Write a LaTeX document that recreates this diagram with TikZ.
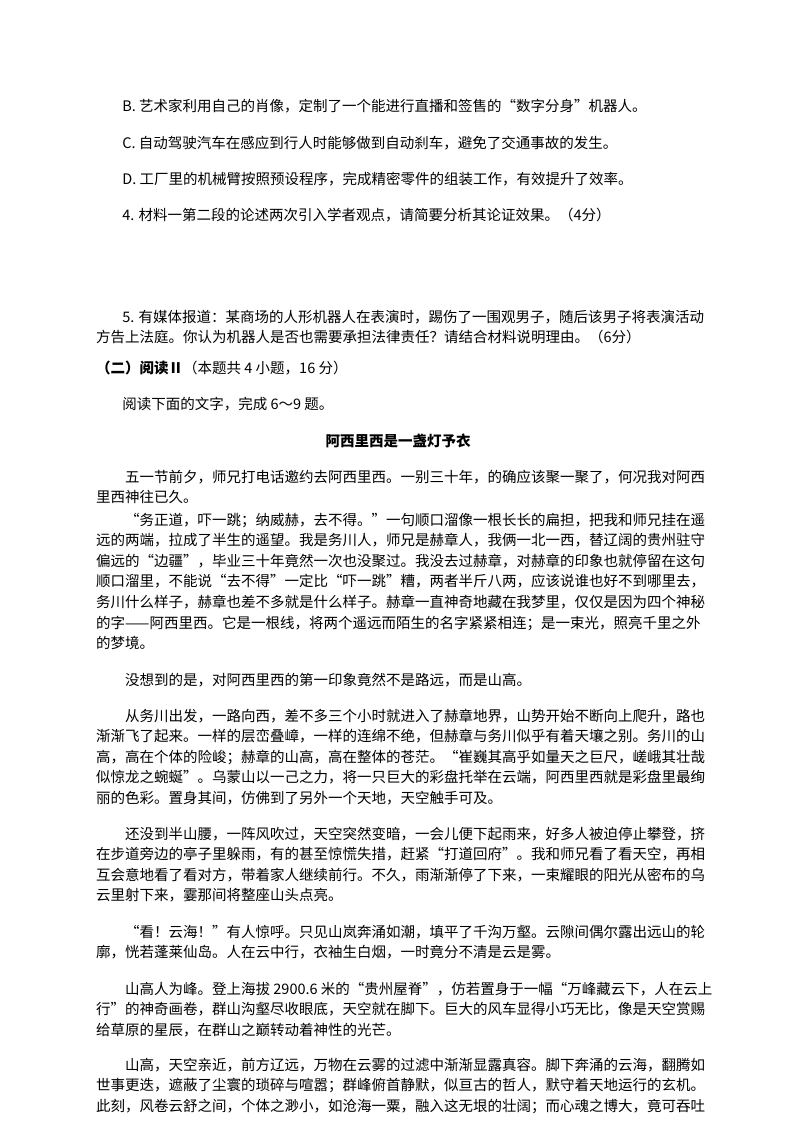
\documentclass[tikz,border=0pt]{standalone}
\usepackage{fontspec}
\setmainfont{Noto Sans CJK SC}
\usetikzlibrary{positioning}

\begin{document}
\begin{tikzpicture}[x=1pt, y=-1pt,
      para/.style={anchor=base west, inner sep=0pt, align=left,
                   font=\fontsize{14.5}{20.6}\selectfont},
      head/.style={anchor=base, inner sep=0pt,
                   font=\fontsize{14.5}{20.6}\selectfont\bfseries}
    ]
      \useasboundingbox[fill=white] (0,0) rectangle (800,1132);

      % questions (multi-line nodes sit on their last baseline)
      \node[para] (qb) at (96,111) {\hspace*{1.8em}B. 艺术家利用自己的肖像，定制了一个能进行直播和签售的“数字分身”机器人。};
      \node[para] (qc) at (96,148) {\hspace*{1.8em}C. 自动驾驶汽车在感应到行人时能够做到自动刹车，避免了交通事故的发生。};
      \node[para] (qd) at (96,184) {\hspace*{1.8em}D. 工厂里的机械臂按照预设程序，完成精密零件的组装工作，有效提升了效率。};
      \node[para] (q4) at (96,220) {\hspace*{1.8em}4. 材料一第二段的论述两次引入学者观点，请简要分析其论证效果。（4分）};
      \node[para] (q5) at (96,342.6) {\hspace*{1.8em}5. 有媒体报道：某商场的人形机器人在表演时，踢伤了一围观男子，随后该男子将表演活动\\
        方告上法庭。你认为机器人是否也需要承担法律责任？请结合材料说明理由。（6分）};

      % section
      \node[para] (sec) at (96,373) {\textbf{（二）阅读Ⅱ}（本题共 4 小题，16 分）};
      \node[para] (task) at (96,409) {\hspace*{1.8em}阅读下面的文字，完成 6～9 题。};
      \node[head] (title) at (398,446) {阿西里西是一盏灯予衣};

      % text
      \node[para] (p1) at (96,502.6) {\hspace*{2em}五一节前夕，师兄打电话邀约去阿西里西。一别三十年，的确应该聚一聚了，何况我对阿西\\
        里西神往已久。};
      \node[para] (p2) at (96,648.6) {\hspace*{2em}“务正道，吓一跳；纳威赫，去不得。”一句顺口溜像一根长长的扁担，把我和师兄挂在遥\\
        远的两端，拉成了半生的遥望。我是务川人，师兄是赫章人，我俩一北一西，替辽阔的贵州驻守\\
        偏远的“边疆”，毕业三十年竟然一次也没聚过。我没去过赫章，对赫章的印象也就停留在这句\\
        顺口溜里，不能说“去不得”一定比“吓一跳”糟，两者半斤八两，应该说谁也好不到哪里去，\\
        务川什么样子，赫章也差不多就是什么样子。赫章一直神奇地藏在我梦里，仅仅是因为四个神秘\\
        的字——阿西里西。它是一根线，将两个遥远而陌生的名字紧紧相连；是一束光，照亮千里之外\\
        的梦境。};
      \node[para] (p3) at (96,685) {\hspace*{2em}没想到的是，对阿西里西的第一印象竟然不是路远，而是山高。};
      \node[para] (p4) at (96,803.4) {\hspace*{2em}从务川出发，一路向西，差不多三个小时就进入了赫章地界，山势开始不断向上爬升，路也\\
        渐渐飞了起来。一样的层峦叠嶂，一样的连绵不绝，但赫章与务川似乎有着天壤之别。务川的山\\
        高，高在个体的险峻；赫章的山高，高在整体的苍茫。“崔巍其高乎如量天之巨尺，嵯峨其壮哉\\
        似惊龙之蜿蜒”。乌蒙山以一己之力，将一只巨大的彩盘托举在云端，阿西里西就是彩盘里最绚\\
        丽的色彩。置身其间，仿佛到了另外一个天地，天空触手可及。};
      \node[para] (p5) at (96,900.8) {\hspace*{2em}还没到半山腰，一阵风吹过，天空突然变暗，一会儿便下起雨来，好多人被迫停止攀登，挤\\
        在步道旁边的亭子里躲雨，有的甚至惊慌失措，赶紧“打道回府”。我和师兄看了看天空，再相\\
        互会意地看了看对方，带着家人继续前行。不久，雨渐渐停了下来，一束耀眼的阳光从密布的乌\\
        云里射下来，霎那间将整座山头点亮。};
      \node[para] (p6) at (96,957.6) {\hspace*{2em}“看！云海！”有人惊呼。只见山岚奔涌如潮，填平了千沟万壑。云隙间偶尔露出远山的轮\\
        廓，恍若蓬莱仙岛。人在云中行，衣袖生白烟，一时竟分不清是云是雾。};
      \node[para] (p7) at (96,1035.2) {\hspace*{2em}山高人为峰。登上海拔 2900.6 米的“贵州屋脊”，仿若置身于一幅“万峰藏云下，人在云上\\
        行”的神奇画卷，群山沟壑尽收眼底，天空就在脚下。巨大的风车显得小巧无比，像是天空赏赐\\
        给草原的星辰，在群山之巅转动着神性的光芒。};
      \node[para] (p8) at (96,1111.2) {\hspace*{2em}山高，天空亲近，前方辽远，万物在云雾的过滤中渐渐显露真容。脚下奔涌的云海，翻腾如\\
        世事更迭，遮蔽了尘寰的琐碎与喧嚣；群峰俯首静默，似亘古的哲人，默守着天地运行的玄机。\\
        此刻，风卷云舒之间，个体之渺小，如沧海一粟，融入这无垠的壮阔；而心魂之博大，竟可吞吐};
    \end{tikzpicture}
\end{document}
